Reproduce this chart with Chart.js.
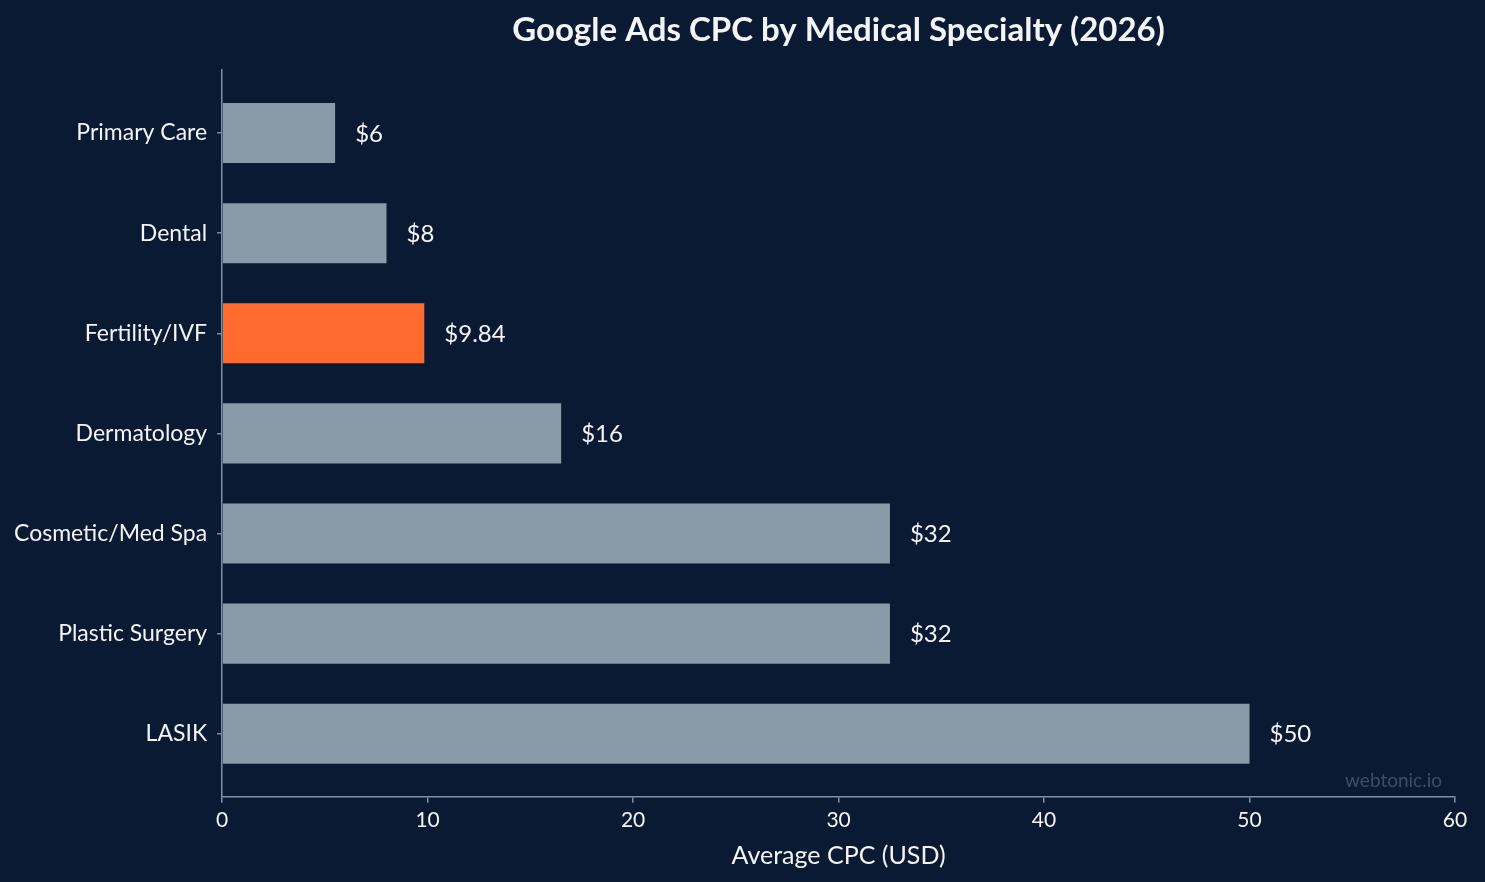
<!DOCTYPE html>
<html>
<head>
<meta charset="utf-8">
<script src="https://cdn.jsdelivr.net/npm/chart.js@4"></script>
<style>
	html, body { margin: 0; padding: 0; background: #0b1a33; }
	#wrap { width: 1485px; height: 882px; }
</style>
</head>
<body>
<div id="wrap"><canvas id="graphic"></canvas></div>
<script>
const categories = ['Primary Care', 'Dental', 'Fertility/IVF', 'Dermatology', 'Cosmetic/Med Spa', 'Plastic Surgery', 'LASIK'];
const cpcValues = [5.5, 8, 9.84, 16.5, 32.5, 32.5, 50];
const valueLabels = ['$6', '$8', '$9.84', '$16', '$32', '$32', '$50'];
const xTicks = [0, 10, 20, 30, 40, 50, 60];
const highlight = 'Fertility/IVF';

const bg = '#0b1a33';
const barGray = '#8a9aa9';
const barOrange = '#ff6b2f';
const axisColor = '#8090a4';
const textColor = '#f2f4f7';

// title, value labels and watermark
const extras = {
	id: 'extras',
	beforeDraw(chart) {
		const ctx = chart.ctx;
		ctx.save();
		ctx.fillStyle = bg;
		ctx.fillRect(0, 0, chart.width, chart.height);
		ctx.restore();
	},
	afterDraw(chart) {
		const ctx = chart.ctx;
		const area = chart.chartArea;
		ctx.save();
		ctx.fillStyle = textColor;
		ctx.font = 'bold 33px Lato';
		ctx.textAlign = 'center';
		ctx.textBaseline = 'middle';
		ctx.fillText('Google Ads CPC by Medical Specialty (2026)', (area.left + area.right) / 2, 30);

		ctx.font = '24px Lato';
		ctx.textAlign = 'left';
		const meta = chart.getDatasetMeta(0);
		meta.data.forEach((bar, i) => {
			ctx.fillText(valueLabels[i], bar.x + 20, bar.y + 1);
		});

		ctx.fillStyle = '#3e4e66';
		ctx.font = '19px Lato';
		ctx.textAlign = 'right';
		ctx.fillText('webtonic.io', area.right - 13, area.bottom - 16);
		ctx.restore();
	}
};

new Chart(graphic, {
	type: 'bar',
	data: {
		datasets: [{
			data: cpcValues.map((v, i) => ({ x: v, y: i })),
			backgroundColor: categories.map(c => c === highlight ? barOrange : barGray),
			categoryPercentage: 1,
			barPercentage: 0.6,
		}]
	},
	options: {
		indexAxis: 'y',
		responsive: true,
		maintainAspectRatio: false,
		animation: false,
		layout: { padding: { top: 70, right: 30, left: 4, bottom: 11 } },
		plugins: {
			legend: { display: false },
			tooltip: { enabled: false },
		},
		scales: {
			x: {
				type: 'linear',
				min: 0,
				max: 60,
				afterBuildTicks: axis => { axis.ticks = xTicks.map(v => ({ value: v })); },
				grid: { display: true, drawOnChartArea: false, drawTicks: true, tickLength: 6, color: axisColor, lineWidth: 1.5 },
				border: { display: true, color: axisColor, width: 1.5 },
				ticks: { color: textColor, font: { family: 'Lato', size: 21 }, padding: 5, maxRotation: 0 },
				title: { display: true, text: 'Average CPC (USD)', color: textColor, font: { family: 'Lato', size: 25 }, padding: { top: 3, bottom: 0 } },
			},
			y: {
				type: 'linear',
				reverse: true,
				offset: false,
				min: -0.63,
				max: 6.63,
				afterBuildTicks: axis => { axis.ticks = categories.map((c, i) => ({ value: i })); },
				grid: { display: true, offset: false, drawOnChartArea: false, drawTicks: true, tickLength: 5, color: axisColor, lineWidth: 1.5 },
				border: { display: true, color: axisColor, width: 1.5 },
				ticks: {
					color: textColor,
					font: { family: 'Lato', size: 23 },
					padding: 10,
					callback: v => categories[v],
				},
			}
		}
	},
	plugins: [extras]
});
</script>
</body>
</html>
